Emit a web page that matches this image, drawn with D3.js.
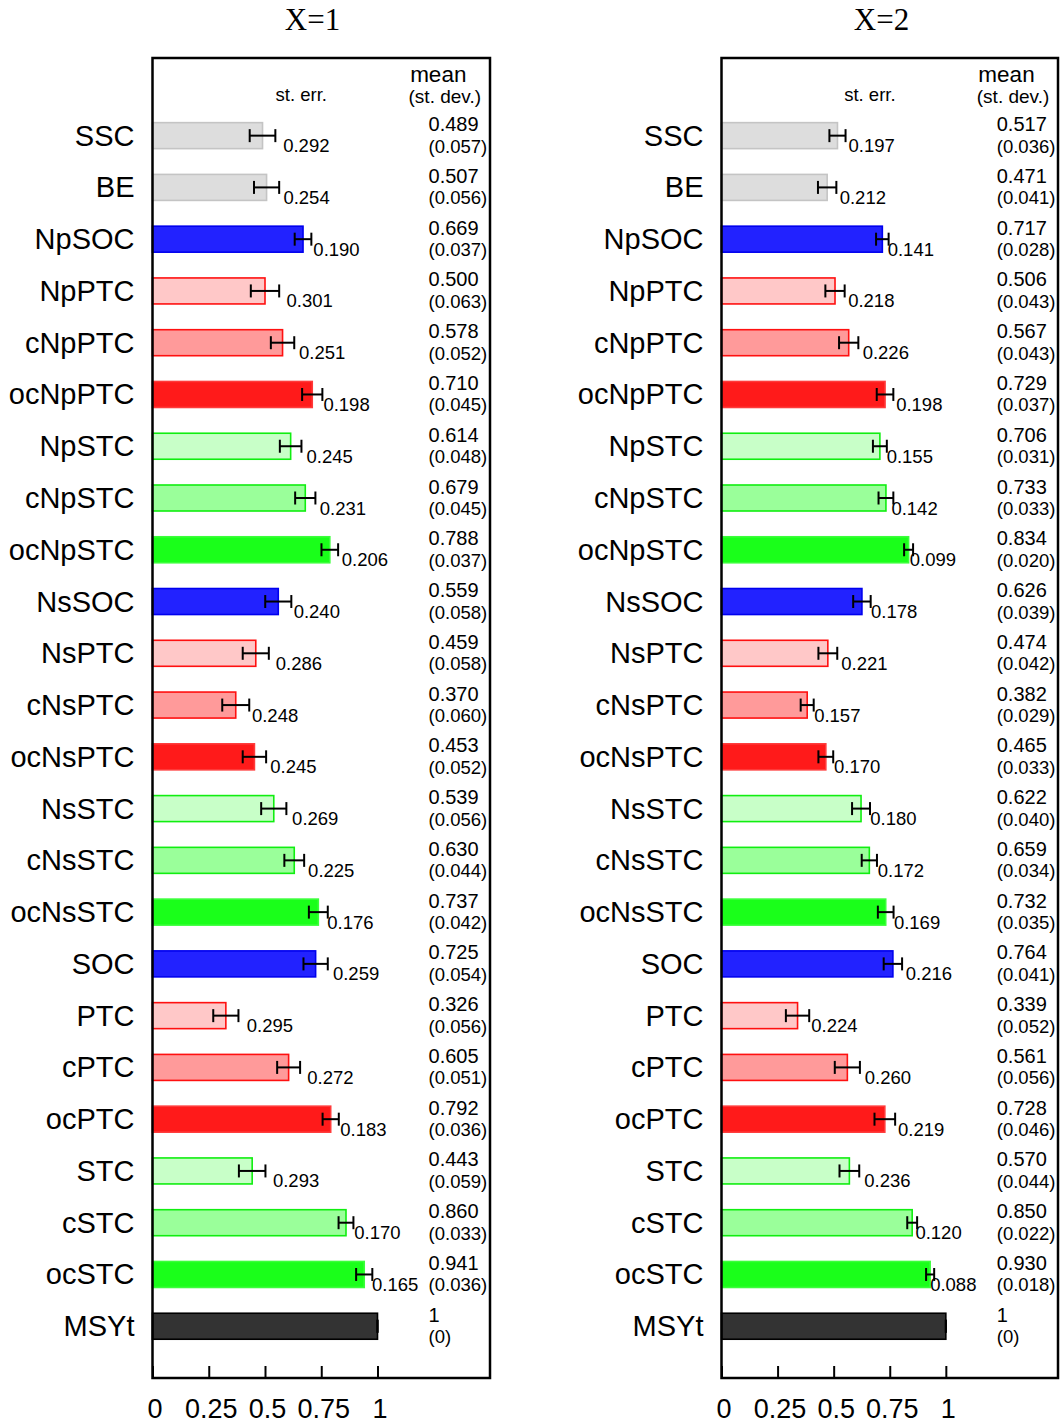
<!DOCTYPE html>
<html>
<head>
<meta charset="utf-8">
<script src="https://cdn.jsdelivr.net/npm/d3@7/dist/d3.min.js"></script>
<style>
  html, body { margin: 0; padding: 0; background: #fff; }
  svg { display: block; }
  text { font-family: "Liberation Sans", Arial, sans-serif; fill: #000; }
</style>
</head>
<body>
<svg id="chart" width="1062" height="1423"></svg>
<script>
// ---- data ----
const categories = ["SSC","BE","NpSOC","NpPTC","cNpPTC","ocNpPTC","NpSTC","cNpSTC","ocNpSTC",
  "NsSOC","NsPTC","cNsPTC","ocNsPTC","NsSTC","cNsSTC","ocNsSTC","SOC","PTC","cPTC","ocPTC",
  "STC","cSTC","ocSTC","MSYt"];

const panelTitles = ["X=1", "X=2"];

const meanX1  = [0.489,0.507,0.669,0.500,0.578,0.710,0.614,0.679,0.788,0.559,0.459,0.370,0.453,0.539,0.630,0.737,0.725,0.326,0.605,0.792,0.443,0.860,0.941,1];
const sdX1    = [0.057,0.056,0.037,0.063,0.052,0.045,0.048,0.045,0.037,0.058,0.058,0.060,0.052,0.056,0.044,0.042,0.054,0.056,0.051,0.036,0.059,0.033,0.036,0];
const sterrX1 = [0.292,0.254,0.190,0.301,0.251,0.198,0.245,0.231,0.206,0.240,0.286,0.248,0.245,0.269,0.225,0.176,0.259,0.295,0.272,0.183,0.293,0.170,0.165,null];

const meanX2  = [0.517,0.471,0.717,0.506,0.567,0.729,0.706,0.733,0.834,0.626,0.474,0.382,0.465,0.622,0.659,0.732,0.764,0.339,0.561,0.728,0.570,0.850,0.930,1];
const sdX2    = [0.036,0.041,0.028,0.043,0.043,0.037,0.031,0.033,0.020,0.039,0.042,0.029,0.033,0.040,0.034,0.035,0.041,0.052,0.056,0.046,0.044,0.022,0.018,0];
const sterrX2 = [0.197,0.212,0.141,0.218,0.226,0.198,0.155,0.142,0.099,0.178,0.221,0.157,0.170,0.180,0.172,0.169,0.216,0.224,0.260,0.219,0.236,0.120,0.088,null];

// text labels for mean / sd columns (as printed)
const meanLabelsX1 = ["0.489","0.507","0.669","0.500","0.578","0.710","0.614","0.679","0.788","0.559","0.459","0.370","0.453","0.539","0.630","0.737","0.725","0.326","0.605","0.792","0.443","0.860","0.941","1"];
const sdLabelsX1   = ["(0.057)","(0.056)","(0.037)","(0.063)","(0.052)","(0.045)","(0.048)","(0.045)","(0.037)","(0.058)","(0.058)","(0.060)","(0.052)","(0.056)","(0.044)","(0.042)","(0.054)","(0.056)","(0.051)","(0.036)","(0.059)","(0.033)","(0.036)","(0)"];
const meanLabelsX2 = ["0.517","0.471","0.717","0.506","0.567","0.729","0.706","0.733","0.834","0.626","0.474","0.382","0.465","0.622","0.659","0.732","0.764","0.339","0.561","0.728","0.570","0.850","0.930","1"];
const sdLabelsX2   = ["(0.036)","(0.041)","(0.028)","(0.043)","(0.043)","(0.037)","(0.031)","(0.033)","(0.020)","(0.039)","(0.042)","(0.029)","(0.033)","(0.040)","(0.034)","(0.035)","(0.041)","(0.052)","(0.056)","(0.046)","(0.044)","(0.022)","(0.018)","(0)"];

const tickValues = [0, 0.25, 0.5, 0.75, 1];
const tickLabels = ["0", "0.25", "0.5", "0.75", "1"];

// ---- styles ----
function barStyle(name) {
  if (name === "SSC" || name === "BE") return {fill: "#dddddd", stroke: "#c4c4c4"};
  if (name === "MSYt") return {fill: "#333333", stroke: "#000000"};
  if (name.endsWith("SOC")) return {fill: "#2222ff", stroke: "#0000ee"};
  const pre = name.startsWith("oc") ? "oc" : (name.startsWith("c") ? "c" : "");
  if (name.endsWith("PTC")) {
    if (pre === "oc") return {fill: "#ff1a1a", stroke: "#ff3a3a"};
    if (pre === "c") return {fill: "#ff9a9a", stroke: "#ff1010"};
    return {fill: "#ffc8c8", stroke: "#ff1010"};
  }
  if (name.endsWith("STC")) {
    if (pre === "oc") return {fill: "#1aff1a", stroke: "#3aff3a"};
    if (pre === "c") return {fill: "#9aff9a", stroke: "#10ee10"};
    return {fill: "#c8ffc8", stroke: "#10ee10"};
  }
  return {fill: "#ccc", stroke: "#000"};
}

const svg = d3.select("#chart");

const panels = [
  {x0: 152.5, x1: 490, title: panelTitles[0], mean: meanX1, sd: sdX1, sterr: sterrX1, ml: meanLabelsX1, sl: sdLabelsX1},
  {x0: 721.5, x1: 1058, title: panelTitles[1], mean: meanX2, sd: sdX2, sterr: sterrX2, ml: meanLabelsX2, sl: sdLabelsX2}
];

const yTop = 58, yBot = 1378;
const y = d3.scaleLinear().domain([-1.5, 24]).range([yTop, yBot]);
const barH = 26;

panels.forEach(p => {
  const x = d3.scaleLinear().domain([0, 1.5]).range([p.x0, p.x1]);
  const g = svg.append("g");

  // title
  g.append("text")
    .attr("x", p.x0 + 160).attr("y", 30)
    .attr("text-anchor", "middle")
    .style("font-family", "'Liberation Serif', 'DejaVu Serif', serif")
    .style("font-size", "31px")
    .text(p.title);

  // category labels
  g.selectAll("text.cat").data(categories).join("text")
    .attr("class", "cat")
    .attr("x", p.x0 - 18)
    .attr("y", (d, i) => y(i) + 10)
    .attr("text-anchor", "end")
    .style("font-size", "29px")
    .text(d => d);

  // bars
  g.selectAll("rect.bar").data(categories).join("rect")
    .attr("class", "bar")
    .attr("x", x(0))
    .attr("y", (d, i) => y(i) - barH / 2)
    .attr("width", (d, i) => x(p.mean[i]) - x(0))
    .attr("height", barH)
    .attr("fill", d => barStyle(d).fill)
    .attr("stroke", d => barStyle(d).stroke)
    .attr("stroke-width", 1.6);

  // error bars (mean ± sd)
  const eb = g.selectAll("g.eb").data(categories).join("g").attr("class", "eb")
    .attr("stroke", "#000").attr("stroke-width", 2).attr("fill", "none");
  eb.append("line")
    .attr("x1", (d, i) => x(p.mean[i] - p.sd[i]))
    .attr("x2", (d, i) => x(p.mean[i] + p.sd[i]))
    .attr("y1", (d, i) => y(i)).attr("y2", (d, i) => y(i));
  eb.append("line")
    .attr("x1", (d, i) => x(p.mean[i] - p.sd[i]))
    .attr("x2", (d, i) => x(p.mean[i] - p.sd[i]))
    .attr("y1", (d, i) => y(i) - 6.5).attr("y2", (d, i) => y(i) + 6.5);
  eb.append("line")
    .attr("x1", (d, i) => x(p.mean[i] + p.sd[i]))
    .attr("x2", (d, i) => x(p.mean[i] + p.sd[i]))
    .attr("y1", (d, i) => y(i) - 6.5).attr("y2", (d, i) => y(i) + 6.5);

  // st. err. labels
  g.selectAll("text.se").data(categories.filter((d, i) => p.sterr[i] !== null)).join("text")
    .attr("class", "se")
    .attr("x", (d) => { const i = categories.indexOf(d); return x(p.mean[i] + 0.45 * (p.sterr[i] - 0.088)); })
    .attr("y", (d) => y(categories.indexOf(d)) + 16.5)
    .style("font-size", "18.5px")
    .text(d => p.sterr[categories.indexOf(d)].toFixed(3));

  // mean / sd column
  const colX = x(1.227);
  g.selectAll("text.mn").data(categories).join("text")
    .attr("class", "mn")
    .attr("x", colX)
    .attr("y", (d, i) => y(i) - 4.5)
    .style("font-size", "20px")
    .text((d, i) => p.ml[i]);
  g.selectAll("text.sd").data(categories).join("text")
    .attr("class", "sd")
    .attr("x", colX)
    .attr("y", (d, i) => y(i) + 17)
    .style("font-size", "18.5px")
    .text((d, i) => p.sl[i]);

  // headers
  g.append("text").attr("x", x(1.145)).attr("y", 82).style("font-size", "22.5px").text("mean");
  g.append("text").attr("x", x(1.138)).attr("y", 103).style("font-size", "19px").text("(st. dev.)");
  g.append("text").attr("x", x(0.547)).attr("y", 101).style("font-size", "18.5px").text("st. err.");

  // frame
  g.append("rect")
    .attr("x", p.x0).attr("y", yTop)
    .attr("width", p.x1 - p.x0).attr("height", yBot - yTop)
    .attr("fill", "none").attr("stroke", "#000").attr("stroke-width", 2.5);

  // x axis (inward ticks)
  const axis = d3.axisBottom(x).tickValues(tickValues).tickSize(-12).tickSizeOuter(0)
    .tickFormat((d, i) => tickLabels[i]);
  const ax = g.append("g").attr("transform", `translate(0,${yBot})`).call(axis);
  ax.select(".domain").remove();
  ax.selectAll(".tick line").attr("stroke", "#000").attr("stroke-width", 2);
  ax.selectAll(".tick text")
    .attr("x", 2)
    .attr("y", 40).attr("dy", null)
    .style("font-size", "27px")
    .style("font-family", "'Liberation Sans', Arial, sans-serif")
    .attr("fill", "#000");
});
</script>
</body>
</html>
